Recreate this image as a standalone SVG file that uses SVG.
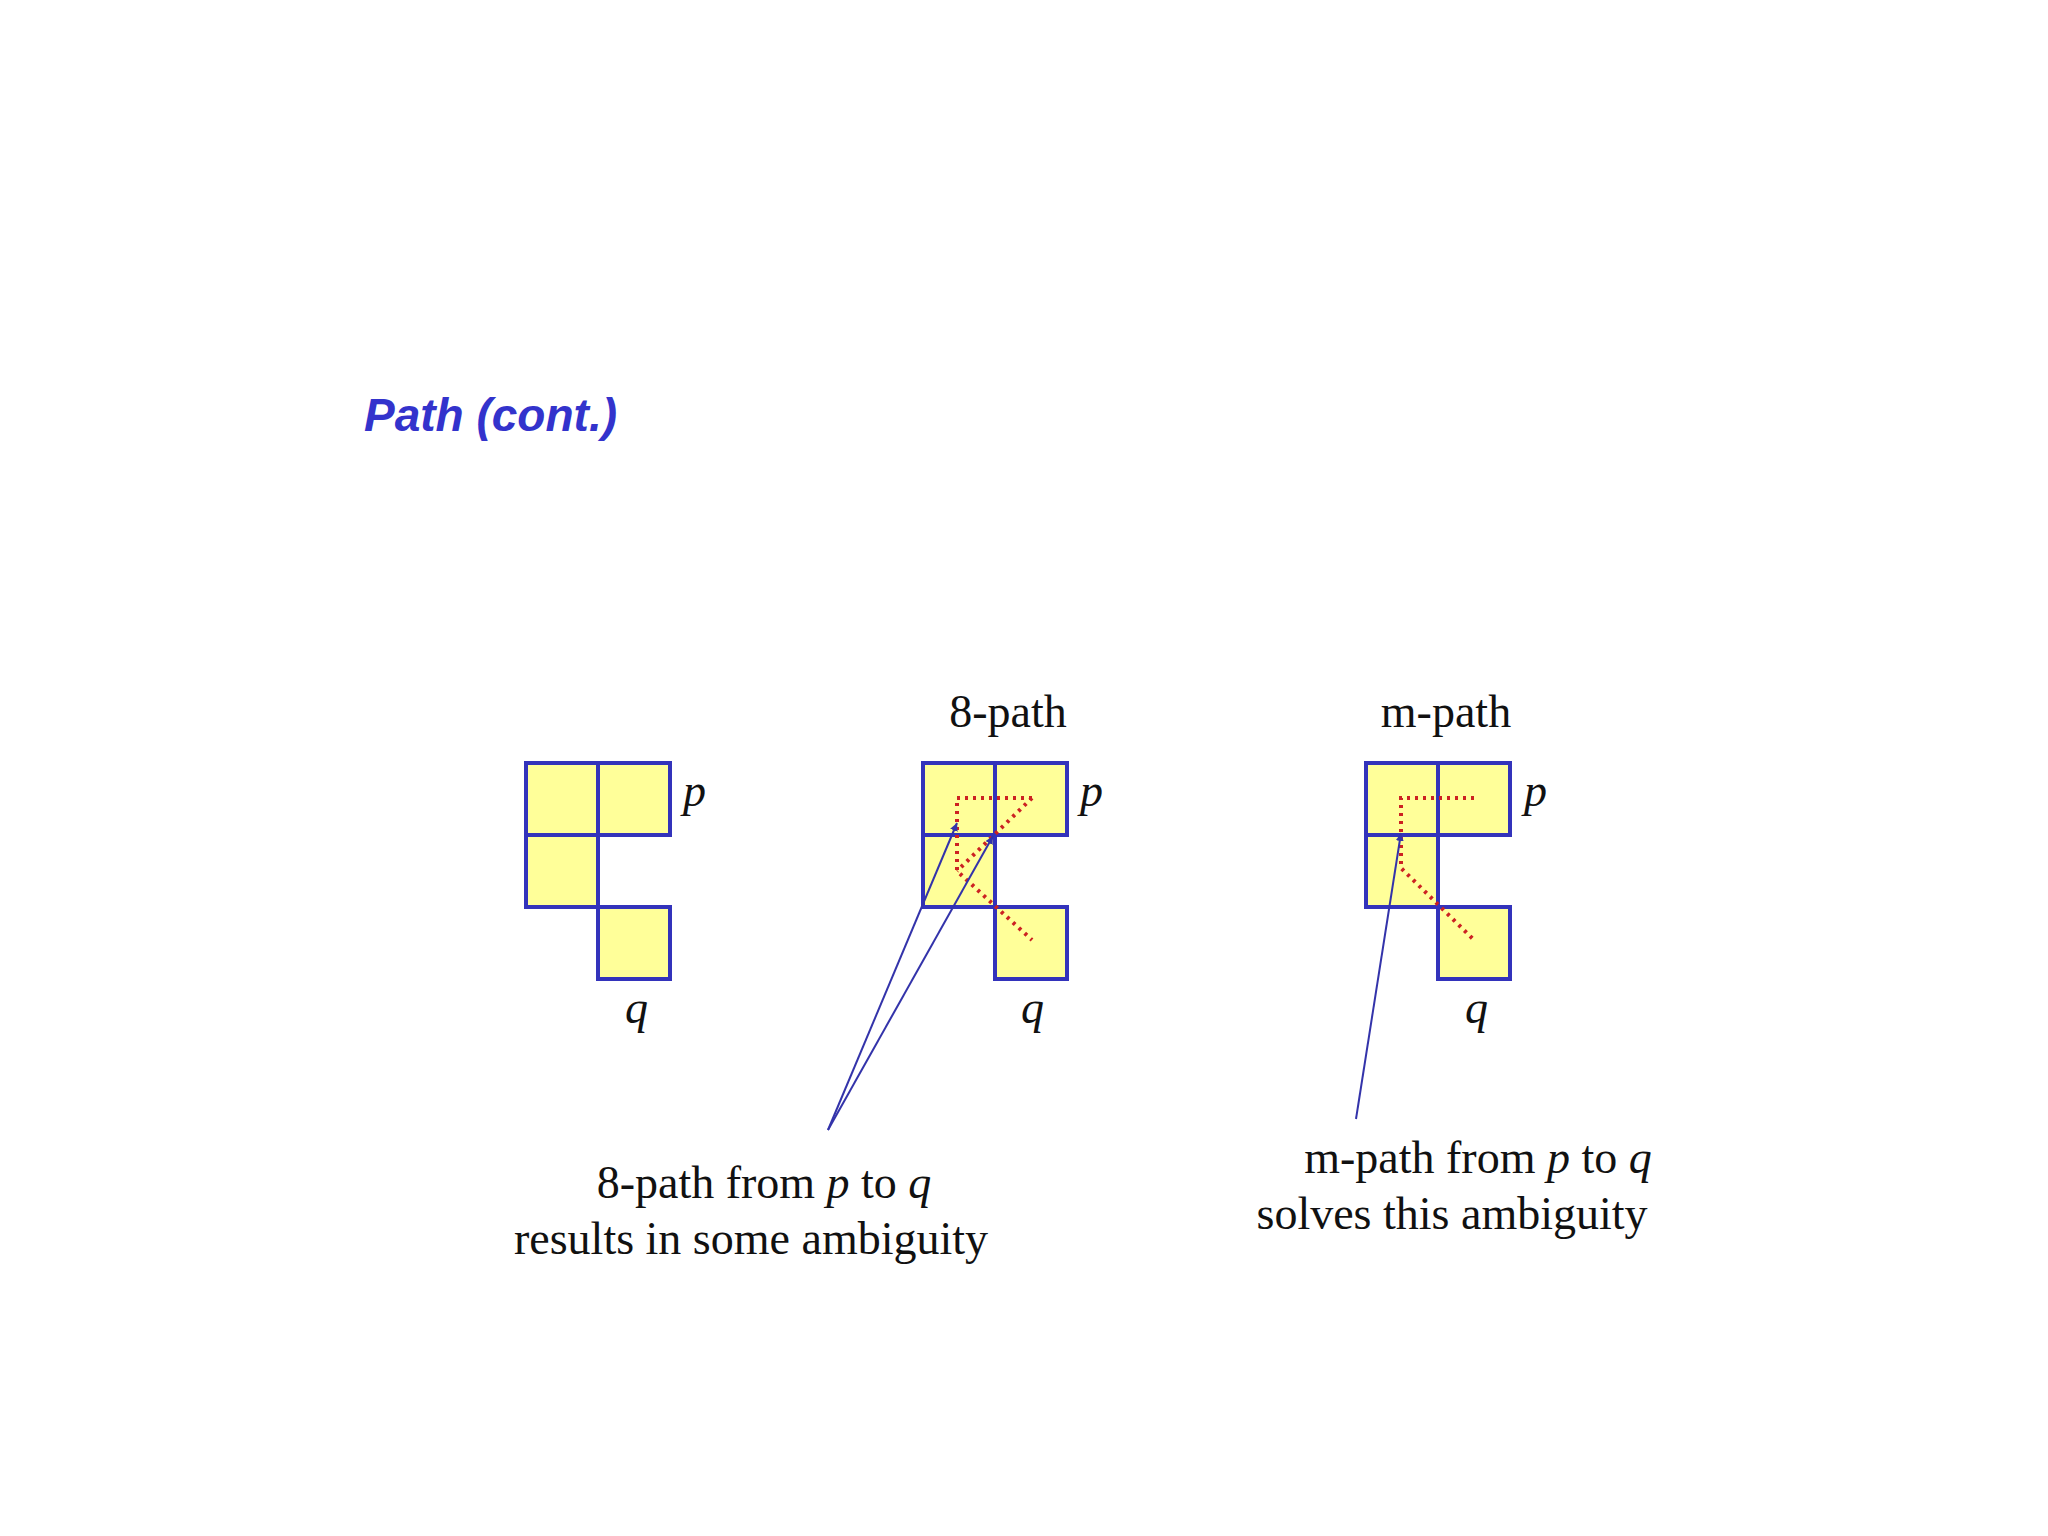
<svg xmlns="http://www.w3.org/2000/svg" width="2048" height="1536" viewBox="0 0 2048 1536">
<style>
.c{fill:#ffff99;stroke:#3333bb;stroke-width:4}
.t{font-family:"Liberation Serif",serif;font-size:46px;fill:#111}
.i{font-style:italic}
.d{fill:none;stroke:#cc2222;stroke-width:4;stroke-dasharray:3 5}
.a{stroke:#3333aa;stroke-width:2;fill:none;marker-end:url(#ah)}
</style>
<defs><marker id="ah" viewBox="0 0 10 10" refX="10" refY="5" markerWidth="8" markerHeight="8" orient="auto" markerUnits="userSpaceOnUse"><path d="M0,0L10,5L0,10z" fill="#3333aa"/></marker></defs>
<rect width="2048" height="1536" fill="#fff"/>
<text x="364" y="431" font-family="Liberation Sans,sans-serif" font-size="46" font-weight="bold" font-style="italic" fill="#3333cc">Path (cont.)</text>
<g id="grid1">
<rect class="c" x="526" y="763" width="72" height="72"/><rect class="c" x="598" y="763" width="72" height="72"/><rect class="c" x="526" y="835" width="72" height="72"/><rect class="c" x="598" y="907" width="72" height="72"/>
<text class="t i" x="683" y="806">p</text><text class="t i" x="625" y="1023">q</text>
</g>
<g id="grid2">
<text class="t" x="1008" y="727" text-anchor="middle">8-path</text>
<rect class="c" x="923" y="763" width="72" height="72"/><rect class="c" x="995" y="763" width="72" height="72"/><rect class="c" x="923" y="835" width="72" height="72"/><rect class="c" x="995" y="907" width="72" height="72"/>
<text class="t i" x="1080" y="806">p</text><text class="t i" x="1021" y="1023">q</text>
<path class="d" d="M1032,798L957,798L957,871L1032,940M1032,798L957,871"/>
</g>
<g id="grid3">
<text class="t" x="1446" y="727" text-anchor="middle">m-path</text>
<rect class="c" x="1366" y="763" width="72" height="72"/><rect class="c" x="1438" y="763" width="72" height="72"/><rect class="c" x="1366" y="835" width="72" height="72"/><rect class="c" x="1438" y="907" width="72" height="72"/>
<text class="t i" x="1524" y="806">p</text><text class="t i" x="1465" y="1023">q</text>
<path class="d" d="M1474,798L1401,798L1401,868L1474,940"/>
</g>
<g id="label1">
<text class="t" x="764" y="1198" text-anchor="middle">8-path from <tspan class="i">p</tspan> to <tspan class="i">q</tspan></text>
<text class="t" x="751" y="1254" text-anchor="middle">results in some ambiguity</text>
</g>
<g id="label2">
<text class="t" x="1478" y="1173" text-anchor="middle">m-path from <tspan class="i">p</tspan> to <tspan class="i">q</tspan></text>
<text class="t" x="1452" y="1229" text-anchor="middle">solves this ambiguity</text>
</g>
<g id="connectors">
<path class="a" d="M828,1130L957,823"/>
<path class="a" d="M828,1130L993,836"/>
<path class="a" d="M1356,1119L1401,833"/>
</g>
</svg>
